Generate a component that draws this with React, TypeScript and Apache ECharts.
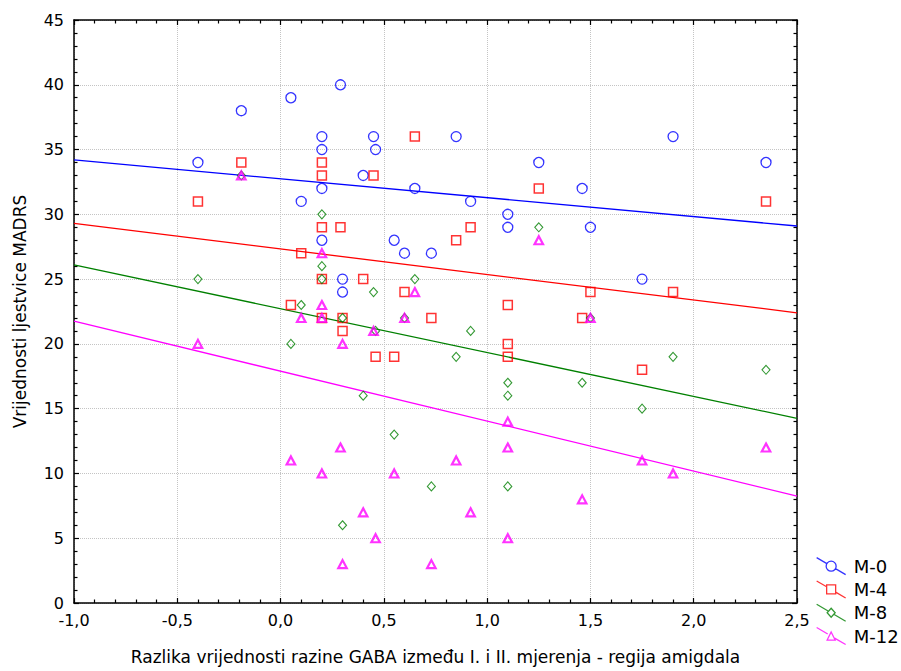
import React, { useEffect, useRef } from "react";
import * as echarts from "echarts";

// Tick labels
const xTicks = [-1.0, -0.5, 0.0, 0.5, 1.0, 1.5, 2.0, 2.5];
const yTicks = [0, 5, 10, 15, 20, 25, 30, 35, 40, 45];

const seriesNames = ["M-0", "M-4", "M-8", "M-12"];

// Data points [x, y]
const m0: number[][] = [
  [-0.4, 34], [-0.19, 38], [0.05, 39], [0.1, 31], [0.29, 40], [0.2, 36], [0.2, 35],
  [0.2, 32], [0.2, 28], [0.4, 33], [0.45, 36], [0.46, 35], [0.65, 32], [0.85, 36],
  [0.92, 31], [1.25, 34], [1.1, 30], [1.1, 29], [0.55, 28], [0.6, 27], [0.73, 27],
  [1.9, 36], [2.35, 34], [1.46, 32], [1.5, 29], [1.75, 25], [0.3, 25], [0.3, 24],
];
const m4: number[][] = [
  [-0.4, 31], [-0.19, 34], [0.1, 27], [0.2, 34], [0.2, 33], [0.2, 29], [0.45, 33],
  [0.65, 36], [1.25, 32], [0.29, 29], [0.92, 29], [0.85, 28], [2.35, 31], [1.5, 24],
  [1.9, 24], [1.46, 22], [1.75, 18], [0.05, 23], [0.2, 25], [0.4, 25], [0.6, 24],
  [0.2, 22], [0.3, 22], [0.3, 21], [0.73, 22], [0.46, 19], [0.55, 19], [1.1, 23],
  [1.1, 20], [1.1, 19],
];
const m8: number[][] = [
  [-0.19, 33], [1.25, 29], [0.2, 30], [0.2, 26], [1.5, 22], [1.9, 19], [2.35, 18],
  [1.46, 17], [1.75, 15], [-0.4, 25], [0.1, 23], [0.05, 20], [0.2, 25], [0.45, 24],
  [0.65, 25], [0.3, 22], [0.46, 21], [0.6, 22], [0.92, 21], [0.85, 19], [1.1, 17],
  [1.1, 16], [0.4, 16], [0.55, 13], [0.73, 9], [1.1, 9], [0.3, 6],
];
const m12: number[][] = [
  [-0.19, 33], [1.25, 28], [0.2, 27], [1.5, 22], [2.35, 12], [1.75, 11], [1.9, 10],
  [1.46, 8], [-0.4, 20], [0.1, 22], [0.2, 23], [0.65, 24], [0.2, 22], [0.3, 20],
  [0.45, 21], [0.6, 22], [1.1, 14], [1.1, 12], [0.29, 12], [0.85, 11], [0.2, 10],
  [0.55, 10], [0.4, 7], [0.92, 7], [0.46, 5], [1.1, 5], [0.3, 3], [0.73, 3], [0.05, 11],
];

// Fitted regression lines, endpoints
const fitM0: number[][] = [[-1, 34.2], [2.5, 29.1]];
const fitM4: number[][] = [[-1, 29.3], [2.5, 22.4]];
const fitM8: number[][] = [[-1, 26.1], [2.5, 14.25]];
const fitM12: number[][] = [[-1, 21.75], [2.5, 8.25]];

const colors = ["#0000FF", "#FF0000", "#008000", "#FF00FF"];
const symbols = ["circle", "rect", "diamond", "triangle"];
const symbolSizes: any[] = [10, 9, [8, 9], [8.5, 8]];
const borderWidths = [1.3, 1.5, 1.1, 2.2];

const legendIcons = [
  "path://M0,0 L10.19,5.97 M18.81,11.03 L29,17 M19.5,8.5 A5,5 0 1,1 9.5,8.5 A5,5 0 1,1 19.5,8.5 Z",
  "path://M0,0 L10,5.86 M19,11.14 L29,17 M10,4 L19,4 L19,13 L10,13 Z",
  "path://M0,0 L11.87,6.96 M17.13,10.04 L29,17 M14.5,4 L18.5,8.5 L14.5,13 L10.5,8.5 Z",
  "path://M0,0 L11.05,6.48 M17.95,10.52 L29,17 M14.5,4.5 L18.5,12.5 L10.5,12.5 Z",
];

const FONT = "DejaVu Sans";

export default function App() {
  const ref = useRef<HTMLDivElement>(null);
  useEffect(() => {
    if (!ref.current) return;
    const chart = echarts.init(ref.current, undefined, { renderer: "svg" });
    const pts = [m0, m4, m8, m12];
    const fits = [fitM0, fitM4, fitM8, fitM12];
    const fmt = (v: number) => v.toFixed(1).replace(".", ",");
    const commonX = {
      type: "value",
      min: xTicks[0],
      max: xTicks[xTicks.length - 1],
      interval: 0.5,
      axisLine: { show: true, onZero: false, lineStyle: { color: "#000", width: 1.5 } },
      axisTick: { show: true, inside: true, length: 5, lineStyle: { color: "#000", width: 1.2 } },
      minorTick: { show: true, splitNumber: 5, length: 3.5, lineStyle: { color: "#000", width: 1.2 } },
    };
    const commonY = {
      type: "value",
      min: yTicks[0],
      max: yTicks[yTicks.length - 1],
      interval: 5,
      axisLine: { show: true, onZero: false, lineStyle: { color: "#000", width: 1.5 } },
      axisTick: { show: true, inside: true, length: 5, lineStyle: { color: "#000", width: 1.2 } },
      minorTick: { show: true, splitNumber: 5, length: 3.5, lineStyle: { color: "#000", width: 1.2 } },
    };
    const series: any[] = [];
    pts.forEach((d, i) => {
      series.push({
        name: seriesNames[i],
        type: "scatter",
        data: d,
        symbol: symbols[i],
        symbolSize: symbolSizes[i],
        itemStyle: { color: "rgba(255,255,255,0)", borderColor: colors[i], borderWidth: borderWidths[i] },
        emphasis: { disabled: true },
        z: 3 + i,
      });
    });
    fits.forEach((d, i) => {
      series.push({
        name: seriesNames[i],
        type: "line",
        data: d,
        symbol: "none",
        showSymbol: false,
        lineStyle: { color: colors[i], width: 1.3 },
        silent: true,
        z: 2,
      });
    });
    chart.setOption({
      animation: false,
      backgroundColor: "#fff",
      grid: { left: 74, right: 104, top: 20, bottom: 68, containLabel: false },
      xAxis: [
        {
          ...commonX,
          position: "bottom",
          name: "Razlika vrijednosti razine GABA između I. i II. mjerenja - regija amigdala",
          nameLocation: "middle",
          nameGap: 45,
          nameTextStyle: { fontFamily: FONT, fontSize: 17, color: "#000" },
          axisLabel: { formatter: fmt, fontFamily: FONT, fontSize: 16, color: "#000", margin: 9 },
          splitLine: { show: true, lineStyle: { color: "#c4c4c4", type: "dotted", width: 1 } },
        },
        {
          ...commonX,
          position: "top",
          axisLabel: { show: false },
          splitLine: { show: false },
        },
      ],
      yAxis: [
        {
          ...commonY,
          position: "left",
          name: "Vrijednosti ljestvice MADRS",
          nameLocation: "middle",
          nameGap: 46,
          nameTextStyle: { fontFamily: FONT, fontSize: 17, color: "#000" },
          axisLabel: { fontFamily: FONT, fontSize: 16, color: "#000", margin: 10 },
          splitLine: { show: true, lineStyle: { color: "#c4c4c4", type: "dotted", width: 1 } },
        },
        {
          ...commonY,
          position: "right",
          axisLabel: { show: false },
          splitLine: { show: false },
        },
      ],
      legend: {
        orient: "vertical",
        left: 816,
        top: 557,
        padding: 0,
        itemGap: 5,
        itemWidth: 29,
        itemHeight: 17,
        selectedMode: false,
        textStyle: { fontFamily: FONT, fontSize: 18, color: "#000", padding: [0, 0, 0, 3] },
        data: seriesNames.map((n, i) => ({
          name: n,
          icon: legendIcons[i],
          itemStyle: { color: "rgba(255,255,255,0)", borderColor: colors[i], borderWidth: 1.3 },
        })),
      },
      series,
    });
    return () => chart.dispose();
  }, []);
  return (
    <div
      ref={ref}
      style={{ position: "absolute", left: 0, top: 0, width: 901, height: 671, background: "#fff" }}
    />
  );
}
